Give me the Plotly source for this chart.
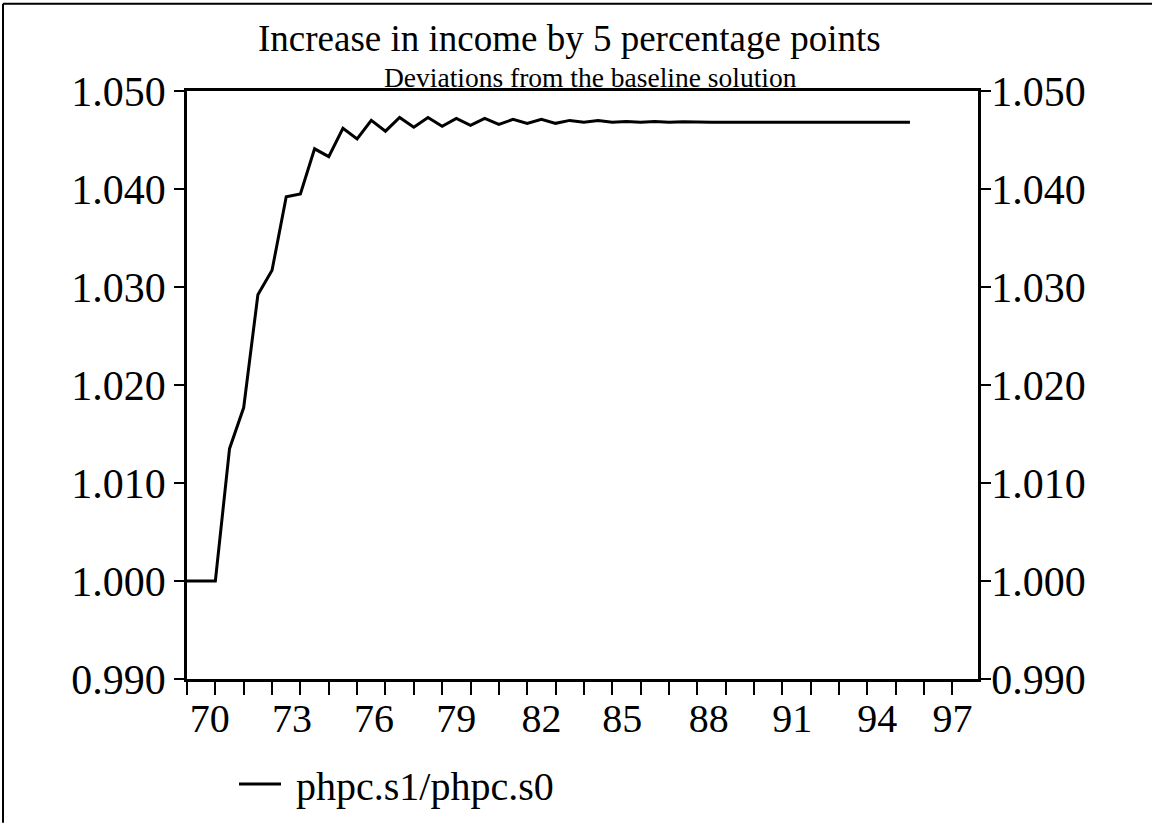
import plotly.graph_objects as go

years = [70.0 + 0.5 * i for i in range(52)]
ratio = [
    1.0000, 1.0000, 1.0000, 1.0135, 1.0177, 1.0292, 1.0317, 1.0392, 1.0395, 1.0441,
    1.0433, 1.0462, 1.0451, 1.0470, 1.0459, 1.0473, 1.0463, 1.0473, 1.0464, 1.0472,
    1.0465, 1.0472, 1.0466, 1.0471, 1.0467, 1.0471, 1.0467, 1.0470, 1.0468, 1.0470,
    1.0468, 1.0469, 1.0468, 1.0469, 1.0468, 1.04685, 1.0468, 1.0468, 1.0468, 1.0468,
    1.0468, 1.0468, 1.0468, 1.0468, 1.0468, 1.0468, 1.0468, 1.0468, 1.0468, 1.0468,
    1.0468, 1.0468,
]
x_tick_vals = list(range(70, 98))
x_label_text = ["70", "73", "76", "79", "82", "85", "88", "91", "94", "97"]
# label centres as printed in the original (slightly compressed vs. the tick marks)
x_label_pos = [70.8, 73.7, 76.6, 79.5, 82.5, 85.35, 88.4, 91.35, 94.35, 97.0]
y_tick_vals = [0.990, 1.000, 1.010, 1.020, 1.030, 1.040, 1.050]
title_text = "Increase in income by 5 percentage points"
subtitle_text = "Deviations from the baseline solution"
series_name = "\u00a0phpc.s1/phpc.s0"

W, H = 1152, 829
L, R, T, B = 187, 978, 91, 684
FONT = "Liberation Serif"


def px(xp):
    return (xp - L) / (R - L)


def py(yp):
    return (B - yp) / (B - T)


fig = go.Figure()
fig.add_trace(go.Scatter(
    x=years, y=ratio, mode="lines", name=series_name,
    line=dict(color="black", width=3), xaxis="x", yaxis="y",
))
fig.add_trace(go.Scatter(
    x=years, y=ratio, mode="lines", showlegend=False, hoverinfo="skip",
    line=dict(color="rgba(0,0,0,0)", width=0), xaxis="x2", yaxis="y2",
))

yax = dict(
    range=[0.990, 1.050], tickvals=y_tick_vals, tickformat=".3f",
    ticks="outside", ticklen=10, tickwidth=2, tickcolor="black",
    showline=True, linecolor="black", linewidth=2.5,
    showgrid=False, zeroline=False,
    tickfont=dict(family=FONT, size=42, color="black"),
)
fig.update_layout(
    width=W, height=H,
    margin=dict(l=L, r=W - R, t=T, b=H - B, pad=0),
    paper_bgcolor="white", plot_bgcolor="white",
    showlegend=True,
    legend=dict(
        x=px(234), y=py(790), xanchor="left", yanchor="middle",
        font=dict(family=FONT, size=40, color="black"),
        bgcolor="rgba(0,0,0,0)", itemwidth=42,
    ),
    xaxis=dict(
        range=[70, 97.9], tickvals=x_tick_vals, showticklabels=False,
        ticks="outside", ticklen=13, tickwidth=2, tickcolor="black",
        showline=True, linecolor="black", linewidth=2.5, mirror=True,
        showgrid=False, zeroline=False,
    ),
    xaxis2=dict(
        range=[70, 97.9], overlaying="x", side="bottom", anchor="y",
        tickvals=x_label_pos, ticktext=x_label_text,
        ticks="outside", ticklen=4, tickcolor="rgba(0,0,0,0)",
        showline=False, showgrid=False, zeroline=False,
        tickfont=dict(family=FONT, size=40, color="black"),
    ),
    yaxis=dict(side="left", **yax),
    yaxis2=dict(side="right", overlaying="y", ticklabelstandoff=-8, **yax),
    annotations=[
        dict(text=title_text, x=px(569), y=py(38), xref="paper", yref="paper",
             xanchor="center", yanchor="middle", showarrow=False,
             font=dict(family=FONT, size=37, color="black")),
        dict(text=subtitle_text, x=px(590), y=py(77), xref="paper", yref="paper",
             xanchor="center", yanchor="middle", showarrow=False,
             font=dict(family=FONT, size=27.5, color="black")),
    ],
    shapes=[
        dict(type="line", xref="paper", yref="paper", x0=px(3), x1=px(3),
             y0=py(3), y1=py(829), line=dict(color="black", width=2)),
        dict(type="line", xref="paper", yref="paper", x0=px(3), x1=px(1152),
             y0=py(3), y1=py(3), line=dict(color="black", width=2)),
    ],
)
fig.write_html("out.html", config={"displayModeBar": False},
               post_script="document.body.style.margin='0px';")
